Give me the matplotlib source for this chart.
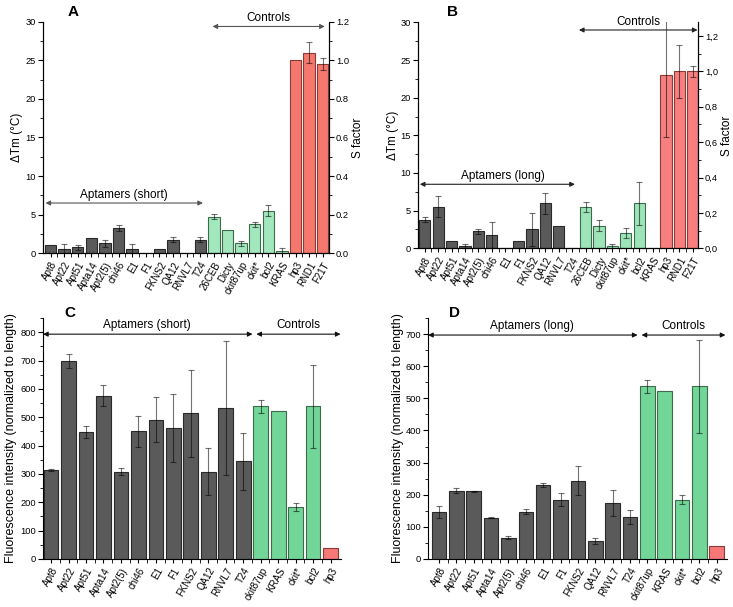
import numpy as np
import matplotlib
matplotlib.use("Agg")
import matplotlib.pyplot as plt
from matplotlib.ticker import MultipleLocator, FuncFormatter

plt.rcParams['font.family'] = ['Liberation Sans', 'DejaVu Sans']
plt.rcParams['font.size'] = 8

# ---- data: panels A/B (melting) ----
tm_labels = ['Apt8', 'Apt22', 'Apt51', 'Apta14', 'Apt2(5)', 'chi46', 'E1', 'F1', 'FKNS2', 'QA12',
             'RNVL7', 'T24', '26CEB', 'Dicty', 'ckit87up', 'ckit*', 'bcl2', 'KRAS', 'hp3', 'RND1', 'F21T']
tm_groups = ['apt'] * 12 + ['ctl'] * 6 + ['neg'] * 3

short_tm = [1.0, 0.5, 0.75, 2.0, 1.25, 3.25, 0.5, 0.0, 0.5, 1.75, 0.0, 1.75,
            4.75, 3.0, 1.25, 3.75, 5.5, 0.25, 25.0, 26.0, 24.5]
short_tm_err = [0, 0.7, 0.35, 0, 0.4, 0.35, 0.7, 0, 0, 0.35, 0, 0.35,
                0.35, 0, 0.35, 0.35, 0.7, 0.35, 0, 1.4, 0.75]

long_tm = [3.8, 5.5, 1.0, 0.25, 2.25, 1.75, 0.0, 1.0, 2.5, 6.0, 3.0, 0.0,
           5.5, 3.0, 0.25, 2.0, 6.0, 0.0, 23.0, 23.5, 23.5]
long_tm_err = [0.3, 1.4, 0, 0.35, 0.35, 1.75, 0, 0, 2.15, 1.4, 0, 0,
               0.7, 0.7, 0.35, 0.7, 2.85, 0, 8.2, 3.5, 0.7]

# ---- data: panels C/D (fluorescence) ----
fl_labels = ['Apt8', 'Apt22', 'Apt51', 'Apta14', 'Apt2(5)', 'chi46', 'E1', 'F1', 'FKNS2', 'QA12',
             'RNVL7', 'T24', 'ckit87up', 'KRAS', 'ckit*', 'bcl2', 'hp3']
fl_groups = ['apt'] * 12 + ['ctl'] * 4 + ['neg']

short_fl = [315, 698, 447, 576, 308, 450, 492, 463, 514, 307, 533, 345, 538, 523, 185, 538, 40]
short_fl_err = [3, 25, 21, 37, 12, 55, 80, 120, 153, 83, 237, 100, 22, 0, 14, 145, 0]

long_fl = [147, 213, 211, 129, 66, 147, 230, 184, 244, 56, 174, 132, 537, 523, 184, 537, 40]
long_fl_err = [18, 8, 2, 2, 5, 8, 5, 20, 45, 10, 40, 22, 20, 0, 14, 145, 0]

TICK_FS = 6.7


def bar_panel(ax, labels, groups, vals, errs, colors, edges):
    x = np.arange(len(labels))
    fc = [colors[g] for g in groups]
    ec = [edges[g] for g in groups]
    ax.bar(x, vals, width=0.84, color=fc, edgecolor=ec, linewidth=0.8, zorder=2)
    errs = np.array(errs, dtype=float)
    m = errs > 0
    ax.errorbar(x[m], np.array(vals, dtype=float)[m], yerr=errs[m], fmt='none',
                ecolor=(0, 0, 0, 0.55), elinewidth=0.8, capsize=2, capthick=0.8, zorder=3)
    ax.set_xticks(x)
    ax.set_xticklabels(labels, rotation=60, ha='right', rotation_mode='anchor', fontsize=7)
    ax.set_xticks(x[:-1] + 0.5, minor=True)
    ax.tick_params(axis='x', which='both', length=3, direction='out', pad=2)
    ax.tick_params(axis='y', which='major', length=3.6, direction='out', labelsize=TICK_FS, pad=1.5)
    ax.tick_params(axis='y', which='minor', length=2, direction='out')
    ax.spines['top'].set_visible(False)


def right_axis(ax, top, fmt=None):
    ax2 = ax.twinx()
    ax2.set_ylim(0, top)
    ax2.yaxis.set_major_locator(MultipleLocator(0.2))
    ax2.yaxis.set_minor_locator(MultipleLocator(0.1))
    if fmt is not None:
        ax2.yaxis.set_major_formatter(fmt)
    ax2.tick_params(axis='y', which='major', length=3.6, labelsize=TICK_FS, pad=1.5)
    ax2.tick_params(axis='y', which='minor', length=2)
    ax2.spines['top'].set_visible(False)
    return ax2


def darrow(ax, x0, x1, y, color='#333333'):
    ax.annotate('', xy=(x1, y), xytext=(x0, y), annotation_clip=False,
                arrowprops=dict(arrowstyle='<|-|>', color=color, lw=0.8,
                                mutation_scale=7, shrinkA=0, shrinkB=0))


fig = plt.figure(figsize=(7.33, 6.07), dpi=100)

# ---------- A ----------
axA = fig.add_axes([0.0587, 0.583, 0.390, 0.381])
bar_panel(axA, tm_labels, tm_groups, short_tm, short_tm_err,
          {'apt': '#5a5a5a', 'ctl': '#a3e8bd', 'neg': '#f5786e'},
          {'apt': '#2a2a2a', 'ctl': '#3d6b4b', 'neg': '#8a3b36'})
axA.set_xlim(-0.55, 20.45)
axA.set_ylim(0, 30)
axA.yaxis.set_major_locator(MultipleLocator(5))
axA.yaxis.set_minor_locator(MultipleLocator(2.5))
axA.set_ylabel('\u0394Tm (\u00b0C)', fontsize=8.5, labelpad=2)
axA2 = right_axis(axA, 1.2)
axA2.set_ylabel('S factor', fontsize=8.5, labelpad=2)
darrow(axA, 11.9, 20.15, 29.4, '#555555')
axA.text(16.0, 29.7, 'Controls', ha='center', va='bottom', fontsize=8.5, clip_on=False)
darrow(axA, -0.37, 11.2, 6.5, '#555555')
axA.text(5.4, 6.8, 'Aptamers (short)', ha='center', va='bottom', fontsize=8.5)
fig.text(73 / 733, 1 - 12 / 607, 'A', fontsize=11, fontweight='bold', ha='center', va='center')

# ---------- B ----------
axB = fig.add_axes([0.570, 0.591, 0.382, 0.372])
bar_panel(axB, tm_labels, tm_groups, long_tm, long_tm_err,
          {'apt': '#5a5a5a', 'ctl': '#9de5b8', 'neg': '#f87f7f'},
          {'apt': '#2a2a2a', 'ctl': '#3d6b4b', 'neg': '#8a3b36'})
axB.set_xlim(-0.52, 20.37)
axB.set_ylim(0, 30)
axB.yaxis.set_major_locator(MultipleLocator(5))
axB.yaxis.set_minor_locator(MultipleLocator(2.5))
axB.set_ylabel('\u0394Tm (\u00b0C)', fontsize=8.5, labelpad=1)
axB2 = right_axis(axB, 30 / 23.5, FuncFormatter(lambda v, p: ('%.1f' % v).replace('.', ',')))
axB2.set_ylabel('S factor', fontsize=8.5, labelpad=2)
darrow(axB, 11.5, 20.35, 29.0, '#222222')
axB.text(15.9, 29.3, 'Controls', ha='center', va='bottom', fontsize=8.5, clip_on=False)
darrow(axB, -0.37, 11.2, 8.5, '#222222')
axB.text(5.8, 8.8, 'Aptamers (long)', ha='center', va='bottom', fontsize=8.5)
fig.text(453 / 733, 1 - 12 / 607, 'B', fontsize=11, fontweight='bold', ha='center', va='center')

# ---------- C ----------
axC = fig.add_axes([0.0587, 0.0791, 0.4066, 0.397])
bar_panel(axC, fl_labels, fl_groups, short_fl, short_fl_err,
          {'apt': '#5a5a5a', 'ctl': '#72d698', 'neg': '#f87878'},
          {'apt': '#2a2a2a', 'ctl': '#3d6b4b', 'neg': '#8a3b36'})
axC.spines['right'].set_visible(False)
axC.set_xlim(-0.46, 16.6)
axC.set_ylim(0, 850)
axC.yaxis.set_major_locator(MultipleLocator(100))
axC.yaxis.set_minor_locator(MultipleLocator(50))
axC.set_ylabel('Fluorescence intensity (normalized to length)', fontsize=9, labelpad=2)
darrow(axC, -0.46, 11.53, 793, '#111111')
axC.text(5.5, 803, 'Aptamers (short)', ha='center', va='bottom', fontsize=8.5)
darrow(axC, 11.75, 16.57, 793, '#111111')
axC.text(14.15, 803, 'Controls', ha='center', va='bottom', fontsize=8.5)
fig.text(70 / 733, 1 - 313 / 607, 'C', fontsize=11, fontweight='bold', ha='center', va='center')

# ---------- D ----------
axD = fig.add_axes([0.584, 0.0791, 0.408, 0.397])
bar_panel(axD, fl_labels, fl_groups, long_fl, long_fl_err,
          {'apt': '#5a5a5a', 'ctl': '#72d698', 'neg': '#f87878'},
          {'apt': '#2a2a2a', 'ctl': '#3d6b4b', 'neg': '#8a3b36'})
axD.spines['right'].set_visible(False)
axD.set_xlim(-0.63, 16.6)
axD.set_ylim(0, 750)
axD.yaxis.set_major_locator(MultipleLocator(100))
axD.yaxis.set_minor_locator(MultipleLocator(50))
axD.set_ylabel('Fluorescence intensity (normalized to length)', fontsize=9, labelpad=1)
darrow(axD, -0.63, 11.44, 697, '#111111')
axD.text(5.35, 706, 'Aptamers (long)', ha='center', va='bottom', fontsize=8.5)
darrow(axD, 11.67, 16.5, 697, '#111111')
axD.text(14.1, 706, 'Controls', ha='center', va='bottom', fontsize=8.5)
fig.text(455 / 733, 1 - 313 / 607, 'D', fontsize=11, fontweight='bold', ha='center', va='center')

fig.savefig('out.png', dpi=100)
